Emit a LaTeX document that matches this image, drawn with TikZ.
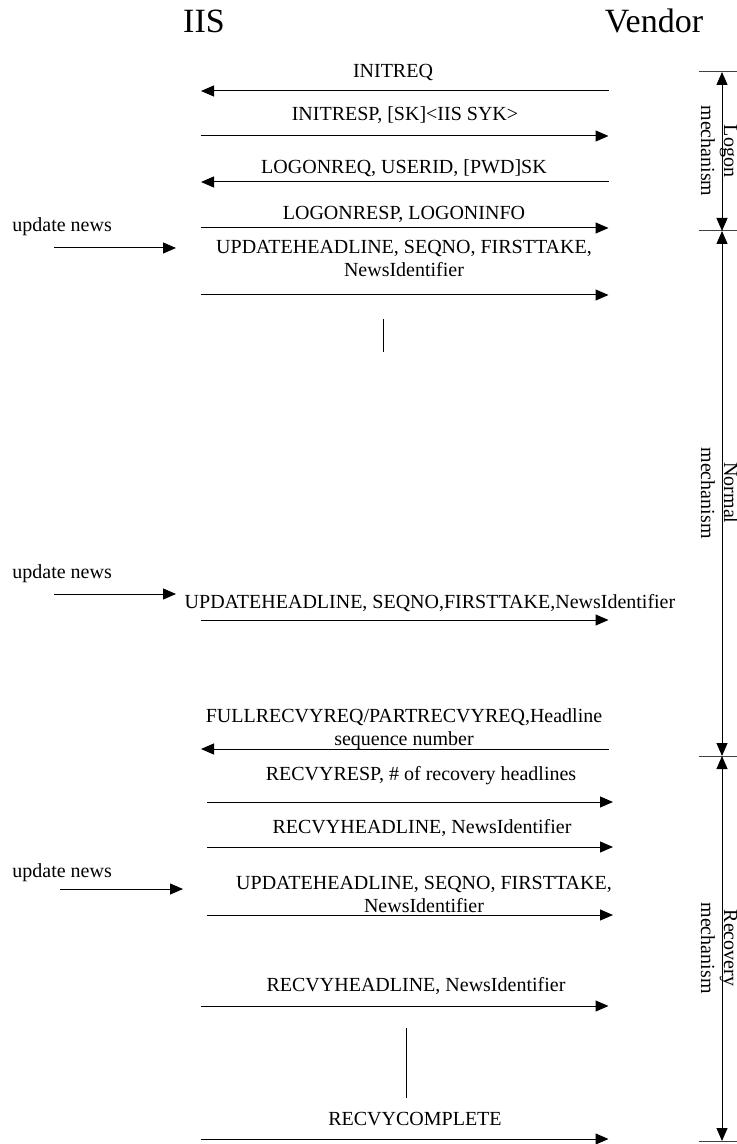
\documentclass[tikz,border=0pt]{standalone}
\usepackage{fontspec}
\setmainfont{Liberation Serif}
\usetikzlibrary{arrows.meta}

\tikzset{
  msg/.style={line width=0.5pt,-{Triangle[length=6.5pt,width=5.5pt]}},
  span/.style={line width=0.5pt,{Triangle[length=6.5pt,width=5.5pt]}-{Triangle[length=6.5pt,width=5.5pt]}},
  tick/.style={line width=0.5pt,black!75},
  lbl/.style={inner sep=0pt,anchor=base,align=center,font=\fontsize{10}{11.5}\selectfont},
  party/.style={inner sep=0pt,anchor=base,font=\fontsize{17}{20}\selectfont},
  phase/.style={lbl,rotate=-90}
}

\begin{document}
\begin{tikzpicture}[x=0.5pt,y=-0.5pt]
\useasboundingbox (0,0) rectangle (737,1144);

\node[party] (iis) at (204,33) {IIS};
\node[party] (vendor) at (654,33) {Vendor};

% logon
\coordinate (m1s) at (608.5,91);  \coordinate (m1e) at (201,91);
\coordinate (m2s) at (201,136);   \coordinate (m2e) at (608.5,136);
\coordinate (m3s) at (608.5,182); \coordinate (m3e) at (201,182);
\coordinate (m4s) at (201,228);   \coordinate (m4e) at (608.5,228);
\draw[msg] (m1s) -- (m1e);
\draw[msg] (m2s) -- (m2e);
\draw[msg] (m3s) -- (m3e);
\draw[msg] (m4s) -- (m4e);
\node[lbl] (t1) at (393,78) {INITREQ};
\node[lbl] (t2) at (405,121) {INITRESP, [SK]<IIS SYK>};
\node[lbl] (t3) at (404,174) {LOGONREQ, USERID, [PWD]SK};
\node[lbl] (t4) at (404,220) {LOGONRESP, LOGONINFO};

% normal
\node[lbl,anchor=base west] (u1) at (12,232) {update news};
\coordinate (u1s) at (54,248); \coordinate (u1e) at (176,248);
\draw[msg] (u1s) -- (u1e);
\coordinate (m5s) at (201,295); \coordinate (m5e) at (608.5,295);
\draw[msg] (m5s) -- (m5e);
\node[lbl] (t5) at (404,277) {UPDATEHEADLINE, SEQNO, FIRSTTAKE,\\NewsIdentifier};
\coordinate (g1a) at (383,319); \coordinate (g1b) at (383,352);
\draw[line width=0.5pt] (g1a) -- (g1b);

\node[lbl,anchor=base west] (u2) at (12,578) {update news};
\coordinate (u2s) at (54,594); \coordinate (u2e) at (176,594);
\draw[msg] (u2s) -- (u2e);
\coordinate (m6s) at (201,620); \coordinate (m6e) at (608.5,620);
\draw[msg] (m6s) -- (m6e);
\node[lbl] (t6) at (430,608) {UPDATEHEADLINE, SEQNO,FIRSTTAKE,NewsIdentifier};

\coordinate (m7s) at (608.5,749); \coordinate (m7e) at (201,749);
\draw[msg] (m7s) -- (m7e);
\node[lbl] (t7) at (404,745) {FULLRECVYREQ/PARTRECVYREQ,Headline\\sequence number};

% recovery
\coordinate (m8s) at (207,802);  \coordinate (m8e) at (613,802);
\coordinate (m9s) at (207,847);  \coordinate (m9e) at (613,847);
\draw[msg] (m8s) -- (m8e);
\draw[msg] (m9s) -- (m9e);
\node[lbl] (t8) at (421,780) {RECVYRESP, \# of recovery headlines};
\node[lbl] (t9) at (422,833) {RECVYHEADLINE, NewsIdentifier};

\node[lbl,anchor=base west] (u3) at (12,877) {update news};
\coordinate (u3s) at (60,889); \coordinate (u3e) at (183,889);
\draw[msg] (u3s) -- (u3e);
\coordinate (m10s) at (207,915); \coordinate (m10e) at (613,915);
\draw[msg] (m10s) -- (m10e);
\node[lbl] (t10) at (424,912) {UPDATEHEADLINE, SEQNO, FIRSTTAKE,\\NewsIdentifier};

\coordinate (m11s) at (201,1006); \coordinate (m11e) at (608.5,1006);
\draw[msg] (m11s) -- (m11e);
\node[lbl] (t11) at (416,991) {RECVYHEADLINE, NewsIdentifier};
\coordinate (g2a) at (406,1028); \coordinate (g2b) at (406,1098);
\draw[line width=0.5pt] (g2a) -- (g2b);

\coordinate (m12s) at (201,1139); \coordinate (m12e) at (608.5,1139);
\draw[msg] (m12s) -- (m12e);
\node[lbl] (t12) at (415,1125) {RECVYCOMPLETE};

% phase brackets
\foreach \y in {72,231,756,1141} \draw[tick] (699,\y) -- (737,\y);
\coordinate (b0) at (722,72);  \coordinate (b1) at (722,231);
\coordinate (b2) at (722,756); \coordinate (b3) at (722,1141);
\draw[span] (b0) -- (b1);
\draw[span] (b1) -- (b2);
\draw[span] (b2) -- (b3);
\node[phase] (p1) at (701,151) {Logon\\mechanism};
\node[phase] (p2) at (701,493) {Normal\\mechanism};
\node[phase] (p3) at (701,948) {Recovery\\mechanism};
\end{tikzpicture}
\end{document}
